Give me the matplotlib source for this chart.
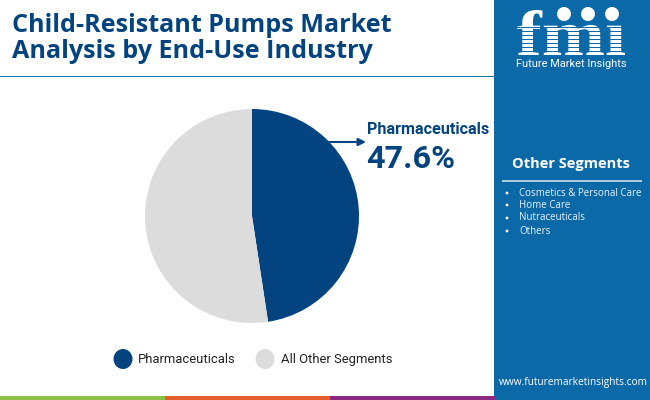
import matplotlib
matplotlib.use('Agg')
import matplotlib.pyplot as plt
from matplotlib.font_manager import FontProperties
from matplotlib.patches import Rectangle, Circle, Ellipse, PathPatch
from matplotlib.textpath import TextPath
from matplotlib.transforms import Affine2D

# data
segments = ['Pharmaceuticals', 'All Other Segments']
shares = [47.6, 52.4]
colors = ['#03437F', '#DCDCDC']
other_segments = ['Cosmetics & Personal Care', 'Home Care', 'Nutraceuticals', 'Others']
other_y = [193, 205, 218, 231]
stripe_colors = ['#8CBF4A', '#E35F2B', '#8B2A85']

W, H = 650, 400
BLUE = '#0B69A8'
NAVY = '#03437F'

fig = plt.figure(figsize=(6.5, 4), dpi=100, facecolor='white')

# overlay in pixel coords, y going down
bg = fig.add_axes([0, 0, 1, 1])
bg.set_xlim(0, W)
bg.set_ylim(H, 0)
bg.axis('off')

# sidebar, header rule, bottom stripe
bg.add_patch(Rectangle((494, 0), 156, 400, color=BLUE, lw=0))
bg.add_patch(Rectangle((0, 75.5), 494, 1.6, color='#1F6A9E', lw=0))
for i, c in enumerate(stripe_colors):
    bg.add_patch(Rectangle((i * 165, 396), 165, 4, color=c, lw=0))

# title
title_font = dict(family='Open Sans', weight='bold', color=NAVY, fontsize=18.1, va='center')
bg.text(12, 25, 'Child-Resistant Pumps Market', **title_font)
bg.text(12, 52, 'Analysis by End-Use Industry', **title_font)

# pie
cx, cy, r = 252, 216, 107
pie_ax = fig.add_axes([(cx - r) / W, 1 - (cy + r) / H, 2 * r / W, 2 * r / H])
pie_ax.pie(shares, colors=colors, startangle=90, counterclock=False, radius=1,
           wedgeprops=dict(linewidth=0))
pie_ax.set_xlim(-1, 1)
pie_ax.set_ylim(-1, 1)

# callout
bg.annotate('', xy=(366, 142), xytext=(327, 142),
            arrowprops=dict(arrowstyle='-|>', color=NAVY, lw=1.5, mutation_scale=11,
                            shrinkA=0, shrinkB=0))
bg.text(367, 129, segments[0], family='Roboto', weight='bold', color=NAVY, fontsize=11.6, va='center')
bg.text(366, 159, f'{shares[0]}%', family='Roboto', weight='bold', color=NAVY, fontsize=23.3, va='center')

# legend
bg.add_patch(Ellipse((123, 359), 19, 20, color=colors[0], lw=0))
bg.text(138, 359.5, segments[0], family='Roboto', color='#222222', fontsize=9.4, va='center')
bg.add_patch(Ellipse((265, 359), 19, 20, color=colors[1], lw=0))
bg.text(281, 359.5, segments[1], family='Roboto', color='#222222', fontsize=9.4, va='center')

# sidebar list
bg.text(571, 164, 'Other Segments', family='Open Sans', weight='bold', color='white',
        fontsize=10.5, ha='center', va='center')
bg.add_patch(Rectangle((502, 180), 140, 1.6, color='#A8CBE3', lw=0))
for label, y in zip(other_segments, other_y):
    bg.add_patch(Circle((507, y), 1.4, color='white', lw=0))
    bg.text(519, y, label, family='Open Sans', color='#EAF3FA', fontsize=7, va='center')

# logo, letters scaled into their box and cut by thin bands
logo_path = TextPath((0, 0), 'fmı', size=60, prop=FontProperties(family='Liberation Serif', weight='bold'))
box = logo_path.get_extents()
logo_tf = (Affine2D().translate(-box.x0, -box.y0).scale(108 / box.width, -45 / box.height)
           .translate(517, 55))
bg.add_patch(PathPatch(logo_path, transform=logo_tf + bg.transData, color='white', lw=0))
for y in range(27, 56, 4):
    bg.add_patch(Rectangle((515, y), 112, 0.9, color=BLUE, lw=0))
for x, y in [(564, 14), (588, 14), (612, 14)]:
    bg.add_patch(Circle((x, y), 7, color='white', lw=0))
bg.text(571, 64, 'Future Market Insights', family='Roboto', color='white', fontsize=7.9,
        ha='center', va='center')

bg.text(573, 383, 'www.futuremarketinsights.com', family='Open Sans', color='white',
        fontsize=7.3, ha='center', va='center')

fig.savefig('out.png', dpi=100)
